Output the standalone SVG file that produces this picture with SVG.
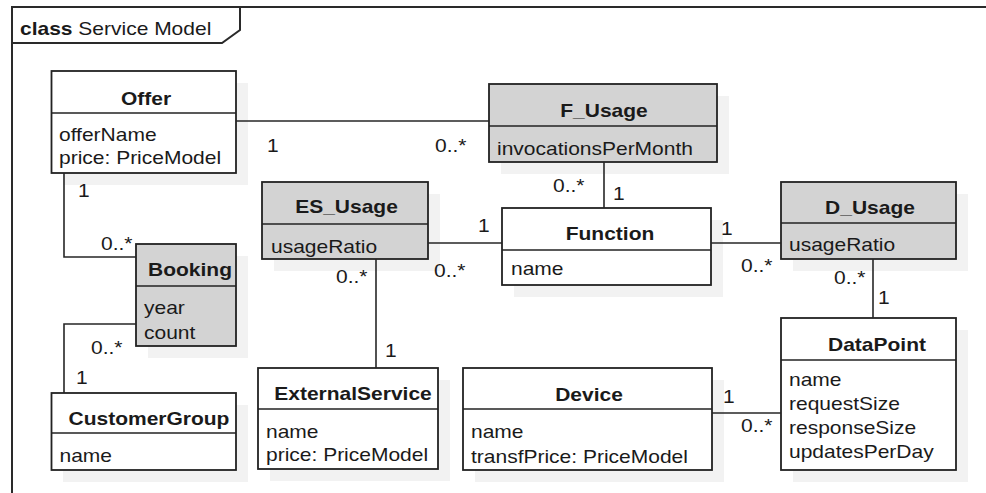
<svg xmlns="http://www.w3.org/2000/svg" width="986" height="493" viewBox="0 0 986 493">
  <style>
    text { font-family: "Liberation Sans", Arial, Helvetica, sans-serif; font-size: 17.5px; fill: #1a1a1a; }
    .ttl { font-weight: bold; text-anchor: middle; }
    .bold { font-weight: bold; }
    .box { fill: #ffffff; stroke: #222222; stroke-width: 1.8; }
    .box.gray { fill: #d3d3d3; }
    .div { stroke: #222222; stroke-width: 1.6; fill: none; }
    .shadow { fill: #f2f2f2; stroke: none; }
    .frame { fill: none; stroke: #2a2a2a; stroke-width: 2; }
    .conn path { fill: none; stroke: #262626; stroke-width: 1.6; }
  </style>

  <rect x="0" y="0" width="986" height="493" fill="#ffffff"/>

  <!-- diagram frame with name tab -->
  <g id="frame">
    <path class="frame" d="M12,493 V7 H986"/>
    <path class="frame" d="M12,43 H222 L240,30 V7"/>
    <text transform="translate(20 35) scale(1.2 1)"><tspan class="bold">class</tspan> Service Model</text>
  </g>

  <!-- classes -->
  <g id="Offer">
    <rect class="shadow" x="63" y="83" width="185" height="102"/>
    <rect class="box" x="51.5" y="71" width="184.5" height="102"/>
    <path class="div" d="M51.5,113 H236"/>
    <text class="ttl" transform="translate(146 105) scale(1.2 1)">Offer</text>
    <text transform="translate(59 140.5) scale(1.2 1)">offerName</text>
    <text transform="translate(59 164) scale(1.2 1)">price: PriceModel</text>
  </g>

  <g id="F_Usage">
    <rect class="shadow" x="501" y="96" width="228" height="78"/>
    <rect class="box gray" x="489" y="84" width="228" height="78"/>
    <path class="div" d="M489,126 H717"/>
    <text class="ttl" transform="translate(604 117) scale(1.2 1)">F_Usage</text>
    <text transform="translate(497 155) scale(1.2 1)">invocationsPerMonth</text>
  </g>

  <g id="ES_Usage">
    <rect class="shadow" x="274" y="194" width="166" height="77"/>
    <rect class="box gray" x="262" y="182" width="166" height="77"/>
    <path class="div" d="M262,224 H428"/>
    <text class="ttl" transform="translate(346.5 213) scale(1.2 1)">ES_Usage</text>
    <text transform="translate(271 252.5) scale(1.2 1)">usageRatio</text>
  </g>

  <g id="Function">
    <rect class="shadow" x="514" y="220" width="209" height="77"/>
    <rect class="box" x="502" y="208" width="209" height="77"/>
    <path class="div" d="M502,250 H711"/>
    <text class="ttl" transform="translate(610 240) scale(1.2 1)">Function</text>
    <text transform="translate(511 275) scale(1.2 1)">name</text>
  </g>

  <g id="D_Usage">
    <rect class="shadow" x="793" y="194" width="175" height="77"/>
    <rect class="box gray" x="781" y="182" width="175" height="77"/>
    <path class="div" d="M781,223 H956"/>
    <text class="ttl" transform="translate(870 214) scale(1.2 1)">D_Usage</text>
    <text transform="translate(789 250.7) scale(1.2 1)">usageRatio</text>
  </g>

  <g id="Booking">
    <rect class="shadow" x="148" y="256" width="100" height="102"/>
    <rect class="box gray" x="136" y="244" width="100" height="102"/>
    <path class="div" d="M136,286 H236"/>
    <text class="ttl" transform="translate(190 276) scale(1.2 1)">Booking</text>
    <text transform="translate(144 314) scale(1.2 1)">year</text>
    <text transform="translate(144 339) scale(1.2 1)">count</text>
  </g>

  <g id="CustomerGroup">
    <rect class="shadow" x="63" y="405" width="185" height="77"/>
    <rect class="box" x="51.5" y="393" width="184.5" height="77"/>
    <path class="div" d="M51.5,433 H236"/>
    <text class="ttl" transform="translate(149 425) scale(1.2 1)">CustomerGroup</text>
    <text transform="translate(59.5 462) scale(1.2 1)">name</text>
  </g>

  <g id="ExternalService">
    <rect class="shadow" x="270" y="380" width="180" height="101"/>
    <rect class="box" x="258" y="368" width="180" height="101"/>
    <path class="div" d="M258,409 H438"/>
    <text class="ttl" transform="translate(353 399.5) scale(1.2 1)">ExternalService</text>
    <text transform="translate(266 438.3) scale(1.2 1)">name</text>
    <text transform="translate(266 460.5) scale(1.2 1)">price: PriceModel</text>
  </g>

  <g id="Device">
    <rect class="shadow" x="475" y="380" width="249" height="102"/>
    <rect class="box" x="463" y="368" width="249" height="102"/>
    <path class="div" d="M463,409 H712"/>
    <text class="ttl" transform="translate(589 400.5) scale(1.2 1)">Device</text>
    <text transform="translate(471 438.3) scale(1.2 1)">name</text>
    <text transform="translate(471 462.5) scale(1.2 1)">transfPrice: PriceModel</text>
  </g>

  <g id="DataPoint">
    <rect class="shadow" x="793" y="330" width="175" height="152"/>
    <rect class="box" x="781" y="318" width="175" height="152"/>
    <path class="div" d="M781,360 H956"/>
    <text class="ttl" transform="translate(877 350.5) scale(1.2 1)">DataPoint</text>
    <text transform="translate(789 386) scale(1.2 1)">name</text>
    <text transform="translate(789 410) scale(1.2 1)">requestSize</text>
    <text transform="translate(789 434) scale(1.2 1)">responseSize</text>
    <text transform="translate(789 458.3) scale(1.2 1)">updatesPerDay</text>
  </g>

  <!-- associations with multiplicities -->
  <g id="connectors" class="conn">
    <path d="M236,121 H489"/>
    <path d="M604,162 V208"/>
    <path d="M428,243 H502"/>
    <path d="M711,243 H781"/>
    <path d="M376,259 V368"/>
    <path d="M873,259 V318"/>
    <path d="M712,413 H781"/>
    <path d="M64,173 V257 H136"/>
    <path d="M136,324 H64 V393"/>

    <text transform="translate(267 152) scale(1.2 1)">1</text>
    <text transform="translate(435 152) scale(1.2 1)">0..*</text>
    <text transform="translate(553 192) scale(1.2 1)">0..*</text>
    <text transform="translate(613 200) scale(1.2 1)">1</text>
    <text transform="translate(478 232) scale(1.2 1)">1</text>
    <text transform="translate(434 277) scale(1.2 1)">0..*</text>
    <text transform="translate(336 283) scale(1.2 1)">0..*</text>
    <text transform="translate(385 357) scale(1.2 1)">1</text>
    <text transform="translate(78 197) scale(1.2 1)">1</text>
    <text transform="translate(101 250) scale(1.2 1)">0..*</text>
    <text transform="translate(91 354) scale(1.2 1)">0..*</text>
    <text transform="translate(76 384) scale(1.2 1)">1</text>
    <text transform="translate(721 234.5) scale(1.2 1)">1</text>
    <text transform="translate(741 272) scale(1.2 1)">0..*</text>
    <text transform="translate(834 284) scale(1.2 1)">0..*</text>
    <text transform="translate(878 303.5) scale(1.2 1)">1</text>
    <text transform="translate(723 403) scale(1.2 1)">1</text>
    <text transform="translate(741 432) scale(1.2 1)">0..*</text>
  </g>
</svg>
